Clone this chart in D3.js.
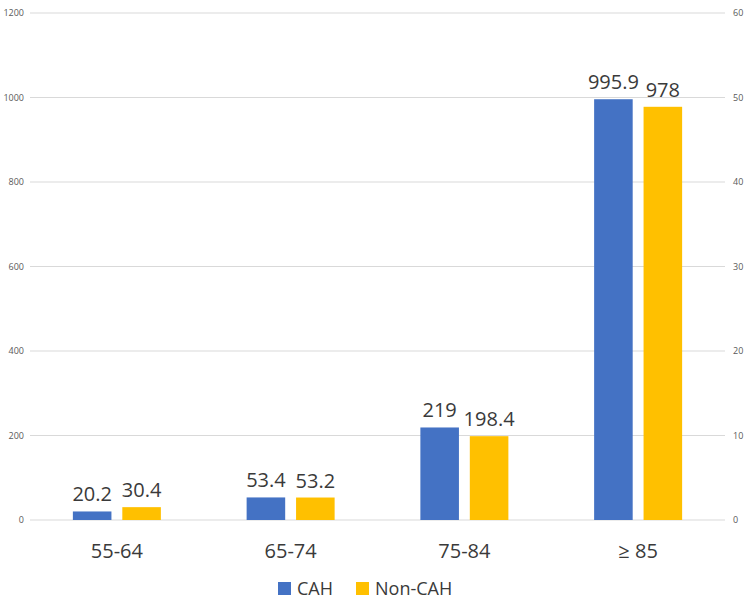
<!DOCTYPE html>
<html>
<head>
<meta charset="utf-8">
<script src="https://cdn.jsdelivr.net/npm/d3@7"></script>
<style>
  body { margin: 0; background: #fff; }
</style>
</head>
<body>
<script>
// Chart data
const categories = ["55-64", "65-74", "75-84", "\u2265 85"];
const seriesNames = ["CAH", "Non-CAH"];
const cahValues = [20.2, 53.4, 219, 995.9];
const nonCahValues = [30.4, 53.2, 198.4, 978];
const leftTicks = [0, 200, 400, 600, 800, 1000, 1200];
const rightTicks = [0, 10, 20, 30, 40, 50, 60];

const colours = ["#4472C4", "#FFC000"];
const width = 750, height = 604;
const plotLeft = 30, plotRight = 725, plotTop = 13, plotBottom = 520;

const svg = d3.select("body").append("svg")
    .attr("width", width)
    .attr("height", height)
    .style("font-family", "'Open Sans', sans-serif");

// Scales
const x = d3.scaleBand().domain(categories).range([plotLeft, plotRight]);
const x1 = d3.scaleBand().domain(seriesNames).range([0, 88]).paddingInner(0.22);
const y = d3.scaleLinear().domain([0, 1200]).range([plotBottom, plotTop]);
const yRight = d3.scaleLinear().domain([0, 60]).range([plotBottom, plotTop]);

// Gridlines
svg.append("g")
    .selectAll("line")
    .data(leftTicks)
    .join("line")
    .attr("x1", plotLeft).attr("x2", plotRight)
    .attr("y1", d => y(d)).attr("y2", d => y(d))
    .attr("stroke", "#d9d9d9")
    .attr("stroke-width", 1);

// Left axis labels
const leftAxis = svg.append("g")
    .attr("transform", `translate(${plotLeft - 6},0)`)
    .call(d3.axisLeft(y).tickValues(leftTicks).tickFormat(d3.format("d")).tickSize(0).tickPadding(0));
leftAxis.select(".domain").remove();
leftAxis.selectAll("text")
    .attr("fill", "#595959")
    .style("font-size", "9px")
    .style("font-family", "'Open Sans', sans-serif");

// Right axis labels
const rightAxis = svg.append("g")
    .attr("transform", `translate(${plotRight + 8},0)`)
    .call(d3.axisRight(yRight).tickValues(rightTicks).tickFormat(d3.format("d")).tickSize(0).tickPadding(0));
rightAxis.select(".domain").remove();
rightAxis.selectAll("text")
    .attr("fill", "#595959")
    .style("font-size", "9px")
    .style("font-family", "'Open Sans', sans-serif");

// Bars
const rows = categories.map((c, i) => ({
    cat: c,
    vals: [
        { name: seriesNames[0], v: cahValues[i], c: colours[0] },
        { name: seriesNames[1], v: nonCahValues[i], c: colours[1] }
    ]
}));

const groups = svg.append("g")
    .selectAll("g")
    .data(rows)
    .join("g")
    .attr("transform", d => `translate(${x(d.cat) + x.bandwidth() / 2 - 44},0)`);

groups.selectAll("rect")
    .data(d => d.vals)
    .join("rect")
    .attr("x", d => x1(d.name))
    .attr("width", x1.bandwidth())
    .attr("y", d => y(d.v))
    .attr("height", d => y(0) - y(d.v))
    .attr("fill", d => d.c);

// Value labels
groups.selectAll("text")
    .data(d => d.vals)
    .join("text")
    .attr("x", d => x1(d.name) + x1.bandwidth() / 2)
    .attr("y", d => y(d.v) - 10)
    .attr("text-anchor", "middle")
    .attr("fill", "#3a3a3a")
    .style("font-size", "20px")
    .text(d => d.v);

// Category labels
svg.append("g")
    .selectAll("text")
    .data(categories)
    .join("text")
    .attr("x", d => x(d) + x.bandwidth() / 2)
    .attr("y", 558)
    .attr("text-anchor", "middle")
    .attr("fill", "#3a3a3a")
    .style("font-size", "20px")
    .text(d => d);

// Legend
const legendX = [278, 356];
const legend = svg.append("g")
    .selectAll("g")
    .data(seriesNames)
    .join("g")
    .attr("transform", (d, i) => `translate(${legendX[i]},582)`);
legend.append("rect")
    .attr("width", 13).attr("height", 13)
    .attr("fill", (d, i) => colours[i]);
legend.append("text")
    .attr("x", 19)
    .attr("y", 13)
    .attr("fill", "#3a3a3a")
    .style("font-size", "18px")
    .text(d => d);
</script>
</body>
</html>
